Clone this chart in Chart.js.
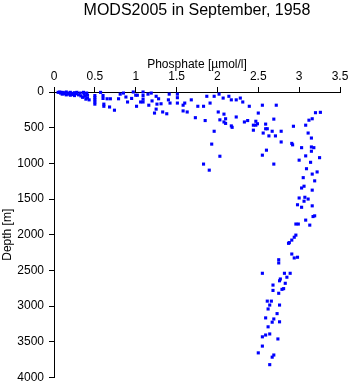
<!DOCTYPE html>
<html>
<head>
<meta charset="utf-8">
<script src="https://cdn.jsdelivr.net/npm/chart.js@4"></script>
<style>
  html, body { margin: 0; padding: 0; background: #fff; }
  #wrap { width: 350px; height: 384px; }
</style>
</head>
<body>
<div id="wrap"><canvas id="chart"></canvas></div>
<script>
// Tick positions and labels
const xTicks = [0, 0.5, 1, 1.5, 2, 2.5, 3, 3.5];
const xTickLabels = ["0", "0.5", "1", "1.5", "2", "2.5", "3", "3.5"];
const yTicks = [0, 500, 1000, 1500, 2000, 2500, 3000, 3500, 4000];
const yTickLabels = ["0", "500", "1000", "1500", "2000", "2500", "3000", "3500", "4000"];

// Phosphate [umol/l]
const phosphate = [
  0.05, 0.07, 0.08, 0.10, 0.10, 0.12, 0.13, 0.15, 0.15, 0.17,
  0.18, 0.20, 0.20, 0.22, 0.23, 0.25, 0.25, 0.27, 0.28, 0.30,
  0.32, 0.33, 0.36, 0.37, 0.38, 0.40, 0.41, 0.41, 0.39, 0.35, 0.43,
  0.50, 0.50, 0.50, 0.50, 0.50, 0.57, 0.60, 0.60, 0.61, 0.61,
  0.65, 0.68, 0.69, 0.74, 0.79, 0.81, 0.85, 0.88, 0.90, 0.95,
  0.97, 1.00, 1.01, 1.02, 1.06, 1.09, 1.09, 1.09, 1.09, 1.15,
  1.16, 1.19, 1.20, 1.23, 1.25, 1.25, 1.26, 1.28, 1.31, 1.33,
  1.38, 1.40, 1.41, 1.42, 1.51, 1.51, 1.51, 1.58, 1.58, 1.60,
  1.63, 1.68, 1.73, 1.76, 1.83, 1.83, 1.85, 1.87, 1.90, 1.91,
  1.93, 1.96, 1.96, 2.01, 2.02, 2.03, 2.03, 2.07, 2.08, 2.08,
  2.10, 2.10, 2.14, 2.17, 2.17, 2.18, 2.23, 2.23, 2.28, 2.31,
  2.33, 2.37, 2.39, 2.44, 2.44, 2.47, 2.47, 2.49, 2.50, 2.55,
  2.56, 2.55, 2.59, 2.59, 2.60, 2.61, 2.63, 2.67, 2.69, 2.69,
  2.71, 2.72, 2.78, 2.78, 2.91, 2.92, 2.93, 3.03, 3.08, 3.11,
  3.12, 3.15, 3.15, 3.15, 3.16, 3.18, 3.20, 3.26, 3.08, 3.25,
  3.00, 3.14, 3.09, 3.22, 3.16, 3.05, 3.19, 3.06, 3.03, 3.16,
  3.07, 3.00, 3.11, 3.06, 2.98, 3.16, 3.03, 3.17, 3.19, 3.08,
  2.96, 2.99, 3.13, 2.96, 2.94, 2.91, 2.88, 2.87, 2.91, 2.98,
  2.94, 2.75, 2.75, 2.55, 2.82, 2.89, 2.85, 2.77, 2.76, 2.83,
  2.68, 2.81, 2.79, 2.68, 2.75, 2.61, 2.66, 2.64, 2.76, 2.62,
  2.73, 2.59, 2.69, 2.67, 2.76, 2.62, 2.64, 2.59, 2.55, 2.74,
  2.55, 2.50, 2.69, 2.67, 2.64
];

// Depth [m], same order
const depth = [
  5, 0, 15, 5, 30, 10, 25, 0, 40, 15,
  30, 5, 45, 20, 35, 10, 50, 25, 5, 40,
  15, 55, 5, 30, 60, 15, 45, 85, 100, 75, 110,
  50, 80, 110, 140, 170, 5, 50, 90, 170, 200,
  95, 210, 95, 255, 95, 30, 15, 70, 140, 90,
  0, 45, 200, 45, 140, 0, 50, 100, 140, 30,
  185, 15, 125, 295, 60, 240, 170, 95, 165, 280,
  305, 110, 30, 155, 30, 80, 155, 185, 265, 155,
  280, 110, 360, 200, 200, 1010, 400, 60, 1095, 155,
  730, 60, 550, 280, 30, 390, 900, 85, 310, 420,
  375, 440, 60, 110, 475, 495, 110, 350, 85, 140,
  420, 400, 200, 465, 535, 410, 465, 445, 295, 185,
  575, 885, 450, 515, 815, 515, 615, 550, 380, 1010,
  615, 185, 550, 700, 720, 740, 480, 780, 465, 575,
  395, 645, 770, 830, 375, 780, 290, 285, 895, 920,
  955, 985, 1075, 1120, 1150, 1200, 1245, 1320, 1345, 1375,
  1475, 1485, 1500, 1530, 1580, 1595, 1615, 1745, 1735, 1795,
  1850, 1850, 1865, 2005, 2035, 2075, 2110, 2120, 2270, 2315,
  2325, 2350, 2395, 2540, 2540, 2540, 2595, 2620, 2645, 2680,
  2705, 2755, 2765, 2780, 2820, 2930, 2930, 2985, 2985, 3040,
  3105, 3165, 3180, 3225, 3220, 3290, 3390, 3405, 3430, 3460,
  3560, 3655, 3685, 3715, 3820
];

const points = phosphate.map((p, i) => ({ x: p, y: depth[i] }));

Chart.defaults.font.family = "'Liberation Sans', Arial, sans-serif";
Chart.defaults.color = "#000";

new Chart(document.getElementById("chart"), {
  type: "scatter",
  data: {
    datasets: [{
      data: points,
      backgroundColor: "#0000ff",
      borderWidth: 0,
      pointStyle: "rect",
      pointRadius: 2.2,
      clip: false
    }]
  },
  options: {
    responsive: true,
    maintainAspectRatio: false,
    animation: false,
    layout: { padding: { left: 0, right: 10, top: 0, bottom: 6.5 } },
    plugins: {
      legend: { display: false },
      tooltip: { enabled: false },
      title: {
        display: true,
        fullSize: false,
        text: "MODS2005 in September, 1958",
        font: { size: 16, weight: "normal", lineHeight: 1 },
        padding: { top: 3, bottom: 1 },
        color: "#000"
      }
    },
    scales: {
      x: {
        type: "linear",
        position: "top",
        min: 0,
        max: 3.5,
        afterBuildTicks: s => { s.ticks = xTicks.map(v => ({ value: v })); },
        afterFit: s => {
          s.height = 72;
          s.paddingLeft = 0;
          s.paddingRight = 0;
        },
        ticks: {
          font: { size: 12 },
          padding: 3,
          maxRotation: 0,
          callback: (v, i) => xTickLabels[i]
        },
        grid: { drawOnChartArea: false, tickLength: 5, color: "#000" },
        border: { color: "#000", width: 1 },
        title: {
          display: true,
          text: "Phosphate [µmol/l]",
          font: { size: 12 },
          padding: { top: 37, bottom: 0 }
        }
      },
      y: {
        type: "linear",
        reverse: true,
        min: 0,
        max: 4000,
        afterBuildTicks: s => { s.ticks = yTicks.map(v => ({ value: v })); },
        afterFit: s => {
          s.width = 54;
          s.paddingTop = 0;
          s.paddingBottom = 0;
        },
        ticks: {
          font: { size: 12 },
          padding: 5,
          callback: (v, i) => yTickLabels[i]
        },
        grid: { drawOnChartArea: false, tickLength: 5, color: "#000" },
        border: { color: "#000", width: 1 },
        title: {
          display: true,
          text: "Depth [m]",
          font: { size: 12 },
          padding: { top: 0, bottom: 0 }
        }
      }
    }
  }
});
</script>
</body>
</html>
